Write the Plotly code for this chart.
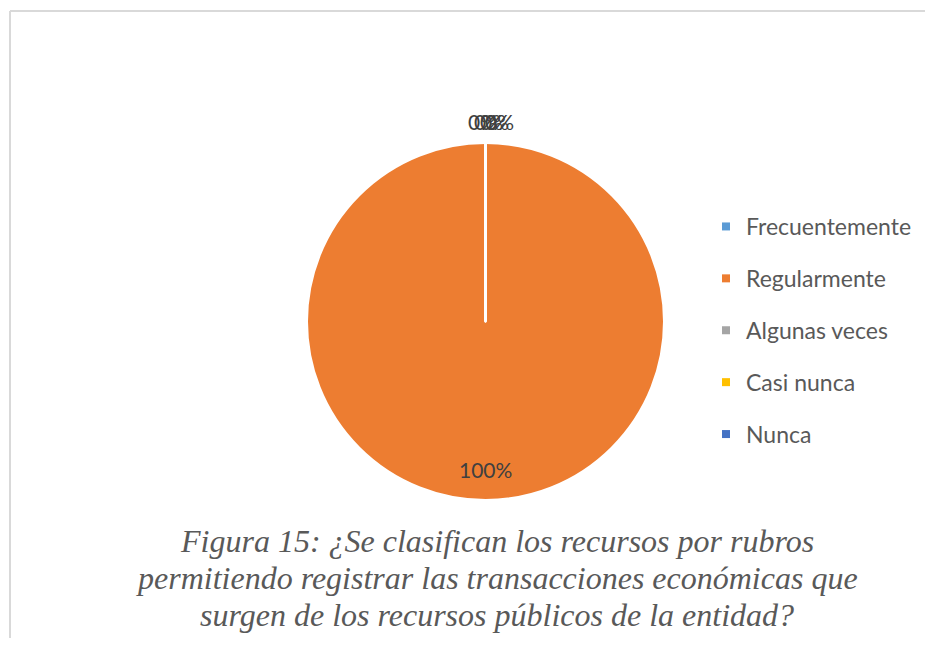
import numpy as np
import plotly.graph_objects as go

categories = ["Frecuentemente", "Regularmente", "Algunas veces", "Casi nunca", "Nunca"]
values = [0, 100, 0, 0, 0]
colors = ["#5B9BD5", "#ED7D31", "#A5A5A5", "#FFC000", "#4472C4"]
caption_lines = [
    "Figura 15: ¿Se clasifican los recursos por rubros",
    "permitiendo registrar las transacciones económicas que",
    "surgen de los recursos públicos de la entidad?",
]

OFF = 8  # page body margin
W, H = 933 - 2 * OFF, 646 - 2 * OFF


def px(x):
    return (x - OFF) / W


def py(y):
    return 1 - (y - OFF) / H


cx, cy, r = 485.5, 321.5, 178.5
dom_x = [px(cx - r), px(cx + r)]
dom_y = [py(cy + r), py(cy - r)]

total = sum(values)
shares = [v / total for v in values]

fig = go.Figure()
fig.add_trace(go.Pie(
    labels=categories, values=values, sort=False, direction="clockwise", rotation=0,
    marker=dict(colors=colors, line=dict(color="white", width=2)),
    textinfo="none",
    domain=dict(x=dom_x, y=dom_y), showlegend=False, hoverinfo="label+percent",
))

for c, col in zip(categories, colors):
    fig.add_trace(go.Scatter(
        x=[None], y=[None], mode="markers", name=c, legendgroup=c,
        marker=dict(symbol="square", size=8, color=col),
    ))

# data labels placed at each slice's mid-angle (Excel "best fit" style)
annotations = []
cum = 0.0
zero_shifts = [-3, 3, 9, 14]
zi = 0
for s in shares:
    mid = (cum + s / 2) * 2 * np.pi  # clockwise from top
    cum += s
    if s > 0.5:
        rr = 0.83 * r
        xshift = 0
    else:
        rr = r + 22
        xshift = zero_shifts[zi % len(zero_shifts)]
        zi += 1
    lx = cx + rr * np.sin(mid)
    ly = cy - rr * np.cos(mid)
    annotations.append(dict(
        text=f"{s:.0%}", xref="paper", yref="paper", x=px(lx), y=py(ly),
        xanchor="center", yanchor="middle", showarrow=False, xshift=xshift,
        font=dict(family="Lato", size=21, color="#404040")))

caption_y = [540.5, 577.5, 614.5]
for line, yy in zip(caption_lines, caption_y):
    annotations.append(dict(
        text=f"<i>{line}</i>", xref="paper", yref="paper", x=px(497), y=py(yy),
        xanchor="center", yanchor="middle", showarrow=False,
        font=dict(family="Liberation Serif", size=32, color="#595959")))

fig.update_layout(
    width=W, height=H, margin=dict(l=0, r=0, t=0, b=0),
    paper_bgcolor="white", plot_bgcolor="white",
    xaxis=dict(visible=False), yaxis=dict(visible=False),
    legend=dict(x=px(706), y=py(205), xanchor="left", yanchor="top",
                font=dict(family="Lato", size=23, color="#595959"),
                tracegroupgap=19, itemwidth=30, bgcolor="rgba(0,0,0,0)"),
    shapes=[
        dict(type="line", xref="paper", yref="paper", x0=px(10), x1=1.2, y0=py(11), y1=py(11),
             line=dict(color="#D9D9D9", width=2)),
        dict(type="line", xref="paper", yref="paper", x0=px(10), x1=px(10), y0=py(11), y1=-0.2,
             line=dict(color="#D9D9D9", width=2)),
        dict(type="line", xref="paper", yref="paper", x0=px(cx), x1=px(cx),
             y0=py(cy), y1=py(cy - r), line=dict(color="white", width=3)),
    ],
    annotations=annotations,
)
fig.write_html("out.html")
